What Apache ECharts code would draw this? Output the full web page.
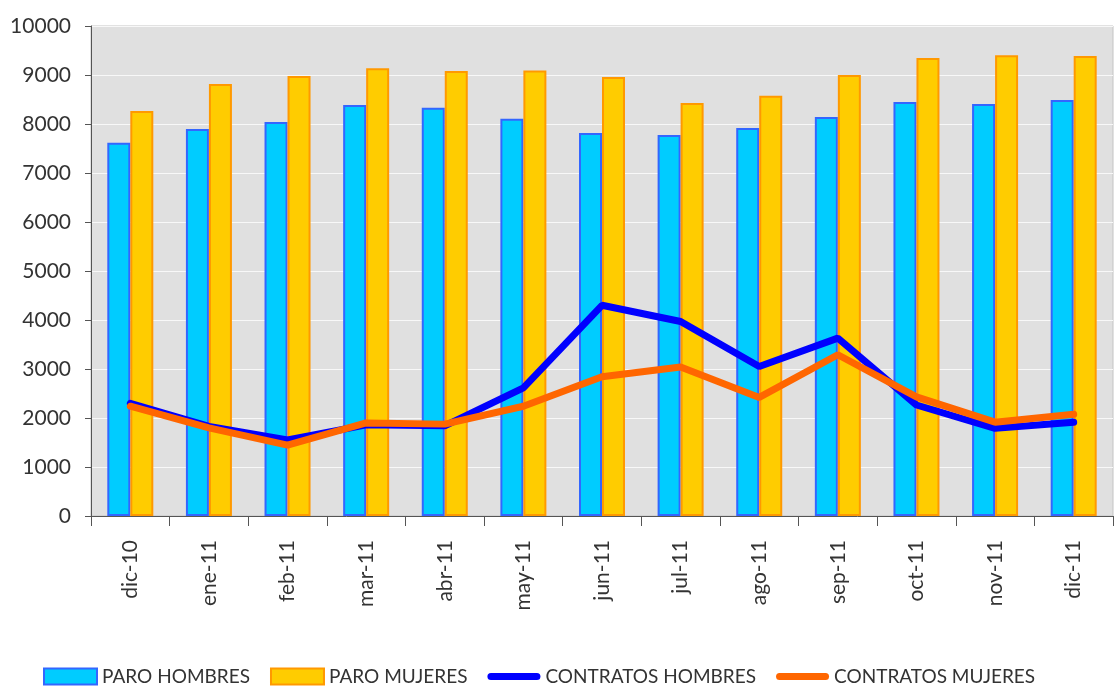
<!DOCTYPE html>
<html><head><meta charset="utf-8">
<script src="https://cdn.jsdelivr.net/npm/echarts@6/dist/echarts.min.js"></script>
<style>html,body{margin:0;padding:0;background:#fff}#c{width:1115px;height:689px}</style>
</head><body><div id="c"></div>
<script>
const categories = ['dic-10','ene-11','feb-11','mar-11','abr-11','may-11','jun-11','jul-11','ago-11','sep-11','oct-11','nov-11','dic-11'];
const paroHombres = [7615, 7900, 8040, 8390, 8330, 8105, 7815, 7775, 7920, 8145, 8450, 8410, 8490];
const paroMujeres = [8265, 8815, 8980, 9140, 9080, 9090, 8960, 8430, 8575, 9000, 9345, 9405, 9390];
const contratosHombres = [2300, 1830, 1550, 1860, 1840, 2615, 4300, 3970, 3050, 3630, 2265, 1790, 1915];
const contratosMujeres = [2240, 1800, 1445, 1900, 1875, 2240, 2840, 3040, 2420, 3290, 2430, 1915, 2075];
const yTicks = [0, 1000, 2000, 3000, 4000, 5000, 6000, 7000, 8000, 9000, 10000];

const font = 'Lato, "Open Sans", sans-serif';
const lineIcon = 'path://M0,0 M53,16 M3.5,4.5 L49.5,4.5 A3.5,3.5 0 0 1 49.5,11.5 L3.5,11.5 A3.5,3.5 0 0 1 3.5,4.5 Z';
const chart = echarts.init(document.getElementById('c'), null, {renderer: 'canvas'});
chart.setOption({
  animation: false,
  backgroundColor: '#fff',
  grid: {left: 91, right: 2, top: 26, bottom: 173, show: true, backgroundColor: '#e0e0e0', borderColor: '#c4c4c4', borderWidth: 1},
  legend: {
    top: 667, left: 43, padding: 0, itemGap: 20, itemWidth: 53, itemHeight: 16,
    textStyle: {fontFamily: font, fontSize: 19, color: '#333'},
    data: [
      {name: 'PARO HOMBRES', icon: 'rect'},
      {name: 'PARO MUJERES', icon: 'rect'},
      {name: 'CONTRATOS HOMBRES', icon: lineIcon, itemStyle: {color: '#0000ff', borderWidth: 0}},
      {name: 'CONTRATOS MUJERES', icon: lineIcon, itemStyle: {color: '#ff6600', borderWidth: 0}}
    ]
  },
  xAxis: {
    type: 'category', data: categories, boundaryGap: true,
    axisLine: {lineStyle: {color: '#555', width: 1}},
    axisTick: {show: true, length: 10, lineStyle: {color: '#555'}},
    axisLabel: {rotate: 90, margin: 24, fontFamily: font, fontSize: 21, color: '#333'}
  },
  yAxis: {
    type: 'value', min: yTicks[0], max: yTicks[yTicks.length - 1], interval: 1000,
    axisLine: {show: true, lineStyle: {color: '#555', width: 1}},
    axisTick: {show: true, length: 6, lineStyle: {color: '#555'}},
    axisLabel: {margin: 20, fontFamily: font, fontSize: 21, color: '#333', formatter: function (v) { return String(v); }},
    splitLine: {lineStyle: {color: '#f8f8f8', width: 1}}
  },
  series: [
    {name: 'PARO HOMBRES', type: 'bar', data: paroHombres, barWidth: 23, barGap: '0%',
      itemStyle: {color: '#00ccff', borderColor: '#3366ff', borderWidth: 2}},
    {name: 'PARO MUJERES', type: 'bar', data: paroMujeres, barWidth: 23, barGap: '0%',
      itemStyle: {color: '#ffcc00', borderColor: '#ff9900', borderWidth: 2}},
    {name: 'CONTRATOS HOMBRES', type: 'line', data: contratosHombres, symbol: 'none',
      lineStyle: {color: '#0000ff', width: 7, cap: 'round'}, itemStyle: {color: '#0000ff'}},
    {name: 'CONTRATOS MUJERES', type: 'line', data: contratosMujeres, symbol: 'none',
      lineStyle: {color: '#ff6600', width: 7, cap: 'round'}, itemStyle: {color: '#ff6600'}}
  ]
});
</script></body></html>
